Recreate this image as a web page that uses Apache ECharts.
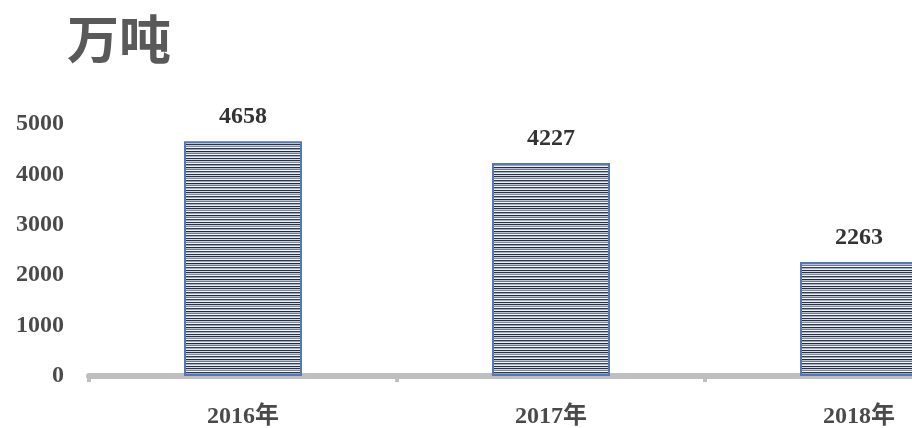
<!DOCTYPE html>
<html>
<head>
<meta charset="utf-8">
<script src="https://cdn.jsdelivr.net/npm/echarts@6/dist/echarts.min.js"></script>
<style>
  html, body { margin: 0; padding: 0; background: #ffffff; }
  #chart { width: 912px; height: 428px; }
</style>
</head>
<body>
<div id="chart"></div>
<script>
// Annual volume, in 万吨
const categories = ['2016年', '2017年', '2018年'];
const values = [4658, 4227, 2263];
const yTicks = [0, 1000, 2000, 3000, 4000, 5000];
const titleText = '万吨';

// Horizontal-stripe fill used by the bars
function stripeCanvas() {
  const rows = ['#26324a', '#c9d0dc', '#7f8898', '#f3f5f8', '#2e3a52', '#9aa3b2',
                '#eef1f5', '#1f2a40', '#b8c2d6', '#6f7989', '#f5f6f9', '#34405a',
                '#a6afbf', '#e9edf2', '#263048', '#d5dbe5'];
  const c = document.createElement('canvas');
  c.width = 4;
  c.height = rows.length;
  const ctx = c.getContext('2d');
  rows.forEach((col, i) => {
    ctx.fillStyle = col;
    ctx.fillRect(0, i, 4, 1);
  });
  return c;
}

const digitFont = '"Liberation Serif", "Noto Sans CJK SC", serif';

const chart = echarts.init(document.getElementById('chart'), null, { renderer: 'canvas' });
chart.setOption({
  animation: false,
  backgroundColor: '#ffffff',
  title: {
    text: titleText,
    left: 62,
    top: 8,
    textStyle: {
      fontFamily: '"Noto Sans CJK SC", sans-serif',
      fontSize: 52,
      fontWeight: 'bold',
      color: '#595959'
    }
  },
  // the plot runs past the right edge, so the last bar is cut off
  grid: {
    left: 89, top: 124, width: 924, bottom: 52,
    containLabel: false, outerBoundsMode: 'none'
  },
  xAxis: {
    type: 'category',
    data: categories,
    boundaryGap: true,
    axisLine: { show: true, lineStyle: { color: '#bfbfbf', width: 6 } },
    axisTick: { show: true, length: 6, lineStyle: { color: '#bfbfbf', width: 4 } },
    axisLabel: {
      margin: 29,
      fontFamily: digitFont,
      fontWeight: 'bold',
      fontSize: 24,
      lineHeight: 24,
      color: '#4a4a4a'
    },
    splitLine: { show: false }
  },
  yAxis: {
    type: 'value',
    min: yTicks[0],
    max: yTicks[yTicks.length - 1],
    interval: yTicks[1] - yTicks[0],
    axisLine: { show: false },
    axisTick: { show: false },
    splitLine: { show: false },
    axisLabel: {
      margin: 25,
      formatter: (v) => String(v),
      fontFamily: digitFont,
      fontWeight: 'bold',
      fontSize: 24,
      color: '#4a4a4a'
    }
  },
  series: [{
    type: 'bar',
    data: values,
    barWidth: 118,
    itemStyle: {
      color: { image: stripeCanvas(), repeat: 'repeat' },
      borderColor: '#5676b4',
      borderWidth: 2
    },
    label: {
      show: true,
      position: 'top',
      distance: 12,
      fontFamily: digitFont,
      fontWeight: 'bold',
      fontSize: 24,
      color: '#333333'
    }
  }]
});
</script>
</body>
</html>
